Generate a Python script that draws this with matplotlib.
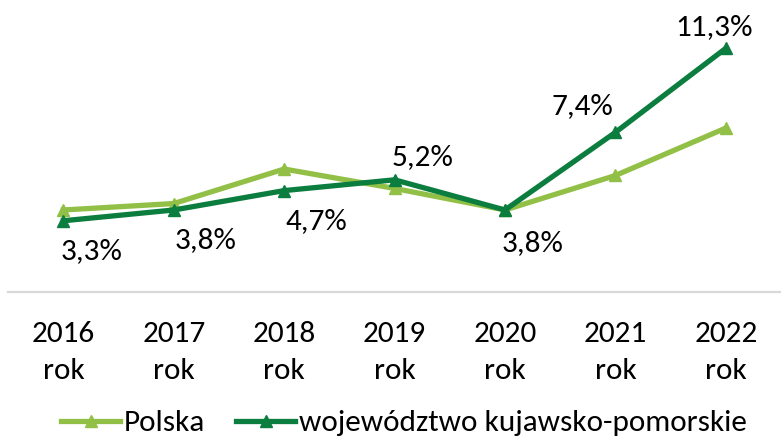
import matplotlib
matplotlib.use("Agg")
import matplotlib.pyplot as plt

years = ["2016", "2017", "2018", "2019", "2020", "2021", "2022"]
tick_labels = [f"{y}\nrok" for y in years]
polska = [3.8, 4.1, 5.7, 4.8, 3.8, 5.4, 7.6]
kujawsko = [3.3, 3.8, 4.7, 5.2, 3.8, 7.4, 11.3]
series_names = ["Polska", "województwo kujawsko-pomorskie"]

plt.rcParams["font.family"] = ["Carlito", "DejaVu Sans"]

light = "#92C047"
dark = "#0B7D3E"

fig = plt.figure(figsize=(7.81, 4.37), dpi=100)
ax = fig.add_axes([0.0105, 0.332, 0.9895, 0.592])
x = list(range(len(years)))
ax.plot(x, polska, color=light, lw=3.8, marker="^", ms=8.5, label=series_names[0], solid_joinstyle="round")
ax.plot(x, kujawsko, color=dark, lw=3.8, marker="^", ms=8.5, label=series_names[1], solid_joinstyle="round")

ax.set_xlim(-0.5, 6.5)
ax.set_ylim(0, 12)
for s in ["top", "right", "left"]:
    ax.spines[s].set_visible(False)
ax.spines["bottom"].set_color("#D9D9D9")
ax.spines["bottom"].set_linewidth(1.6)
ax.set_yticks([])
ax.set_xticks(x)
ax.set_xticklabels(tick_labels, fontsize=22.5, linespacing=1.5)
ax.tick_params(axis="x", length=0, pad=21)

offsets = [(28, -30), (32, -30), (32, -30), (28, 23), (28, -33), (-33, 26), (-12, 21)]
for xi, v, (dx, dy) in zip(x, kujawsko, offsets):
    ax.annotate(f"{v:.1f}".replace(".", ",") + "%", (xi, v), xytext=(dx, dy),
                textcoords="offset pixels", ha="center", va="center", fontsize=22.5, color="black")

fig.legend(loc="center", bbox_to_anchor=(0.517, 0.032), ncol=2, frameon=False, fontsize=22.5,
           handlelength=1.9, handletextpad=0.1, columnspacing=1.0)

fig.savefig("out.png", dpi=100)
